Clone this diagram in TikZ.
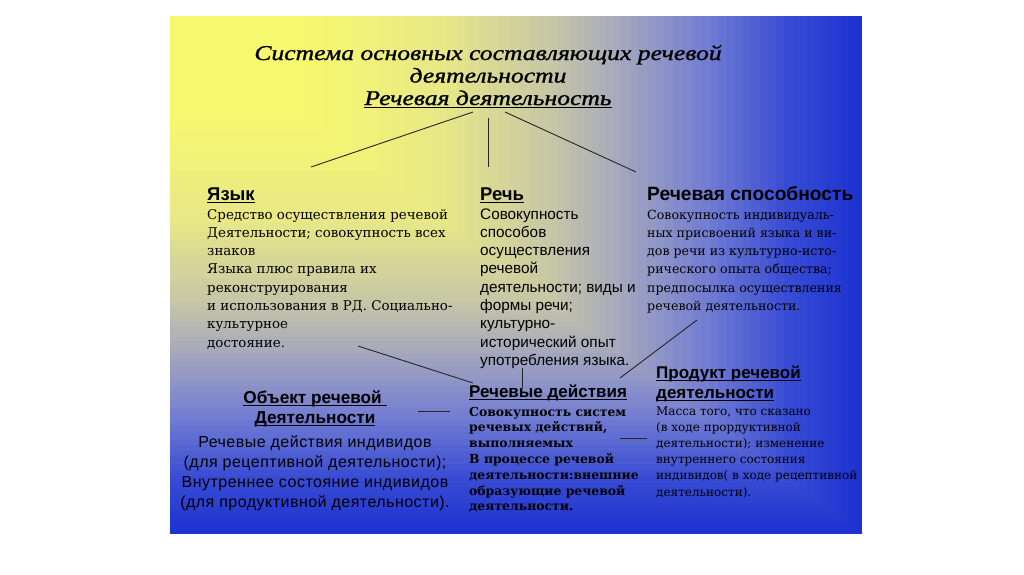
\documentclass[tikz,border=0pt]{standalone}
\usepackage{fontspec}
\setmainfont{DejaVu Serif}
\setsansfont{Liberation Sans}
\newfontfamily\titlefont{Liberation Serif}[FakeStretch=1.22, FakeBold=1.2]
\newfontfamily\spacedsans{Liberation Sans}[LetterSpace=3]
\definecolor{bga}{RGB}{250,250,100}
\definecolor{bgb}{RGB}{248,248,110}
\definecolor{bgc}{RGB}{232,232,135}
\definecolor{bgd}{RGB}{200,200,165}
\definecolor{bge}{RGB}{168,170,188}
\definecolor{bgf}{RGB}{115,125,210}
\definecolor{bgg}{RGB}{55,75,212}
\definecolor{bgh}{RGB}{30,50,210}
\newsavebox\headbox
\newcommand\headul[2][1.3pt]{\sbox\headbox{#2}\rlap{\rule[-3pt]{\wd\headbox}{#1}}\usebox\headbox}

\begin{document}
\begin{tikzpicture}[x=1pt, y=-1pt,
	headtext/.style={anchor=base west, inner sep=0pt, align=left, font=\sffamily\bfseries\fontsize{18.5}{20}\selectfont},
	bodytext/.style={anchor=base west, inner sep=0pt, align=left},
	link/.style={draw=black!85, line width=0.9pt}]
	\fill[white] (0,0) rectangle (1024,574);
	\useasboundingbox (0,0) rectangle (1024,574);
	\foreach \ta/\tb/\ca/\cb in {0.9/1/bgg/bgh, 0.78/0.9/bgf/bgg, 0.65/0.78/bge/bgf, 0.55/0.65/bgd/bge, 0.4/0.55/bgc/bgd, 0.2/0.4/bgb/bgc}
		\foreach \k in {10,9,...,1} {
			\pgfmathsetmacro\tt{\ta+(\tb-\ta)*\k/10}
			\pgfmathtruncatemacro\pp{\k*10}
			\fill[fill={\cb!\pp!\ca}] (170,16) rectangle ({170+692*\tt},{16+518*\tt});
		}
	\fill[bgb] (170,16) rectangle ({170+692*0.2},{16+518*0.2});

	\node (title) at (488,105) [anchor=base, inner sep=0pt, align=center, font=\titlefont\itshape\fontsize{21}{22.5}\selectfont] {Система основных составляющих речевой\\деятельности\\\headul[1pt]{Речевая деятельность}};

	\node (yazyk) at (207,200) [headtext] {\headul{Язык}};
	\node (yazykbody) at (207,347.1) [bodytext, font=\fontsize{13.4}{18.3}\selectfont] {Средство осуществления речевой\\Деятельности; совокупность всех\\знаков\\Языка плюс правила их\\реконструирования\\и использования в РД. Социально-\\культурное\\достояние.};

	\node (rech) at (480,200) [headtext] {\headul{Речь}};
	\node (rechbody) at (480,365.4) [bodytext, font=\sffamily\fontsize{15.3}{18.3}\selectfont] {Совокупность\\способов\\осуществления\\речевой\\деятельности; виды и\\формы речи;\\культурно-\\исторический опыт\\употребления языка.};

	\node (spos) at (647,200) [headtext, font=\sffamily\bfseries\fontsize{19.2}{20}\selectfont] {Речевая способность};
	\node (sposbody) at (647,310.5) [bodytext, font=\fontsize{12.6}{18.3}\selectfont] {Совокупность индивидуаль-\\ных присвоений языка и ви-\\дов речи из культурно-исто-\\рического опыта общества;\\предпосылка осуществления\\речевой деятельности.};

	\node (obj) at (315,423) [anchor=base, inner sep=0pt, align=center, font=\sffamily\bfseries\fontsize{17.2}{20}\selectfont] {\headul{Объект речевой }\\\headul{Деятельности}};
	\node (objbody) at (315,507) [anchor=base, inner sep=0pt, align=center, font=\spacedsans\fontsize{16}{20}\selectfont] {Речевые действия индивидов\\(для рецептивной деятельности);\\Внутреннее состояние индивидов\\(для продуктивной деятельности).};

	\node (deistv) at (469,397) [headtext, font=\sffamily\bfseries\fontsize{17}{20}\selectfont] {\headul{Речевые действия}};
	\node (deistvbody) at (469,510.8) [bodytext, font=\bfseries\fontsize{12.4}{15.8}\selectfont] {Совокупность систем\\речевых действий,\\выполняемых\\В процессе речевой\\деятельности:внешние\\образующие речевой\\деятельности.};

	\node (prod) at (656,398) [headtext, font=\sffamily\bfseries\fontsize{17}{20}\selectfont] {\headul{Продукт речевой}\\\headul{деятельности}};
	\node (prodbody) at (656,496) [bodytext, font=\fontsize{12}{16.2}\selectfont] {Масса того, что сказано\\(в ходе прордуктивной\\деятельности); изменение\\внутреннего состояния\\индивидов( в ходе рецептивной\\деятельности).};

	\coordinate (ta) at (473,112);
	\coordinate (tb) at (488,118);
	\coordinate (tc) at (505,112);
	\coordinate (ya) at (311,167);
	\coordinate (ra) at (488,167);
	\coordinate (sa) at (636,172);
	\coordinate (yb) at (358,346);
	\coordinate (da) at (473,383);
	\coordinate (rb) at (522,368);
	\coordinate (db) at (522,388);
	\coordinate (sb) at (697,320);
	\coordinate (pa) at (620,378);
	\coordinate (oa) at (418,411);
	\coordinate (dc) at (450,411);
	\coordinate (dd) at (620,438);
	\coordinate (pb) at (647,438);
	\draw[link] (ta) -- (ya);
	\draw[link] (tb) -- (ra);
	\draw[link] (tc) -- (sa);
	\draw[link] (yb) -- (da);
	\draw[link] (rb) -- (db);
	\draw[link] (sb) -- (pa);
	\draw[link] (oa) -- (dc);
	\draw[link] (dd) -- (pb);
\end{tikzpicture}
\end{document}
